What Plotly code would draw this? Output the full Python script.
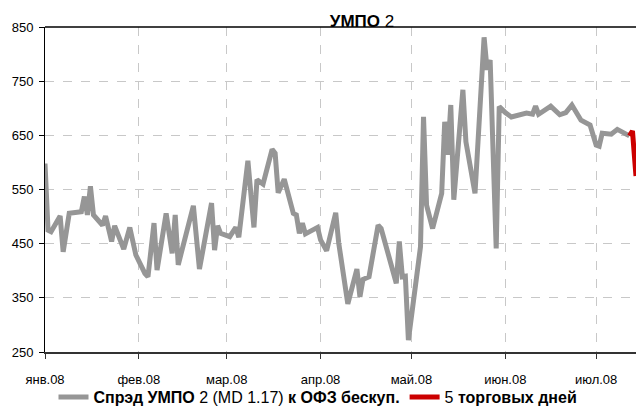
import plotly.graph_objects as go

# Spread series (gray)
dates = [
    "2008-01-01", "2008-01-02", "2008-01-03", "2008-01-06", "2008-01-07", "2008-01-09",
    "2008-01-13", "2008-01-14", "2008-01-15", "2008-01-16", "2008-01-17", "2008-01-20",
    "2008-01-21", "2008-01-23", "2008-01-24", "2008-01-27", "2008-01-29", "2008-01-31",
    "2008-02-03", "2008-02-04", "2008-02-06", "2008-02-07", "2008-02-10", "2008-02-12",
    "2008-02-13", "2008-02-14", "2008-02-19", "2008-02-21", "2008-02-25", "2008-02-26",
    "2008-02-27", "2008-02-28", "2008-03-02", "2008-03-04", "2008-03-05", "2008-03-08",
    "2008-03-10", "2008-03-11", "2008-03-13", "2008-03-16", "2008-03-17", "2008-03-18",
    "2008-03-20", "2008-03-23", "2008-03-24", "2008-03-25", "2008-03-26", "2008-03-27",
    "2008-03-31", "2008-04-01", "2008-04-03", "2008-04-06", "2008-04-07", "2008-04-10",
    "2008-04-13", "2008-04-14", "2008-04-15", "2008-04-17", "2008-04-20", "2008-04-21",
    "2008-04-26", "2008-04-27", "2008-04-28", "2008-04-29", "2008-04-30", "2008-05-04",
    "2008-05-05", "2008-05-06", "2008-05-08", "2008-05-11", "2008-05-12", "2008-05-13",
    "2008-05-14", "2008-05-15", "2008-05-18", "2008-05-19", "2008-05-22", "2008-05-25",
    "2008-05-26", "2008-05-27", "2008-05-29", "2008-05-30", "2008-06-01", "2008-06-03",
    "2008-06-08", "2008-06-10", "2008-06-11", "2008-06-12", "2008-06-16", "2008-06-19",
    "2008-06-21", "2008-06-23", "2008-06-26", "2008-06-29", "2008-07-01", "2008-07-02",
    "2008-07-03", "2008-07-06", "2008-07-08", "2008-07-12",
]
spread = [
    598, 475, 472, 501, 435, 506,
    509, 537, 503, 556, 503, 484,
    501, 454, 483, 440, 480, 429,
    395, 389, 488, 401, 506, 432,
    503, 411, 520, 403, 525, 438,
    483, 469, 463, 480, 462, 603,
    480, 568, 560, 624, 617, 544,
    569, 506, 503, 469, 488, 468,
    480, 457, 437, 507, 451, 339,
    403, 352, 384, 389, 484, 478,
    377, 454, 389, 390, 272, 444,
    684, 521, 478, 543, 675, 614,
    706, 531, 734, 638, 543, 831,
    771, 789, 441, 703, 692, 684,
    691, 689, 704, 689, 704, 688,
    692, 706, 678, 669, 632, 630,
    654, 652, 661, 649,
]

# Last 5 trading days (red)
last_dates = ["2008-07-12 00:00:00", "2008-07-13 00:00:00", "2008-07-14 04:00:00"]
last_vals = [649, 658, 575]

month_ticks = ["2008-01-01", "2008-02-01", "2008-03-01", "2008-04-01",
               "2008-05-01", "2008-06-01", "2008-07-01"]
month_labels = ["янв.08", "фев.08", "мар.08", "апр.08", "май.08", "июн.08", "июл.08"]
y_ticks = [250, 350, 450, 550, 650, 750, 850]

FONT = "Liberation Sans Narrow, Arial Narrow, Liberation Sans, Arial, sans-serif"

fig = go.Figure()
fig.add_trace(go.Scatter(
    x=dates, y=spread, mode="lines",
    line=dict(color="#969696", width=5),
    name="<b>Спрэд УМПО</b> 2 (MD 1.17) <b>к ОФЗ бескуп.</b>",
))
fig.add_trace(go.Scatter(
    x=last_dates, y=last_vals, mode="lines",
    line=dict(color="#cc0000", width=5),
    name="5 <b>торговых дней</b>",
))

fig.update_layout(
    width=636, height=406,
    margin=dict(l=45, r=0, t=27, b=54, autoexpand=False),
    paper_bgcolor="white", plot_bgcolor="white",
    font=dict(family=FONT, size=13, color="black"),
    title=dict(text="<b>УМПО</b> 2", x=362 / 636, xanchor="center",
               y=1 - 21 / 406, yanchor="middle",
               font=dict(size=17, family=FONT, color="black")),
    showlegend=True,
    legend=dict(orientation="h", x=0.5, xanchor="center", xref="container",
                y=9 / 406, yanchor="middle", yref="container",
                font=dict(size=16, family=FONT, color="black"),
                bgcolor="rgba(0,0,0,0)", itemwidth=30, tracegroupgap=0),
)
fig.update_xaxes(
    type="date", range=["2008-01-01 00:00:00", "2008-07-14 04:00:00"], autorange=False,
    tickvals=month_ticks, ticktext=month_labels, automargin=False,
    showgrid=True, gridcolor="#c8c8c8", griddash="dash", gridwidth=1,
    showline=True, linecolor="#333333", linewidth=2, mirror=False,
    ticks="outside", ticklen=5, tickcolor="#333333", ticklabelstandoff=9,
    zeroline=False, fixedrange=True,
)
fig.update_yaxes(
    range=[250, 850], tickvals=y_ticks, automargin=False,
    showgrid=True, gridcolor="#c8c8c8", griddash="dash", gridwidth=1,
    showline=True, linecolor="black", linewidth=1,
    ticks="outside", ticklen=5, tickcolor="black", ticklabelstandoff=3,
    zeroline=False, fixedrange=True,
)
# top border line
fig.add_shape(type="line", xref="paper", yref="paper", x0=0, x1=1, y0=1, y1=1,
              line=dict(color="black", width=1.5))

fig.write_html("out.html", config={"displayModeBar": False},
               post_script="document.body.style.margin='0';document.body.style.padding='0';")
